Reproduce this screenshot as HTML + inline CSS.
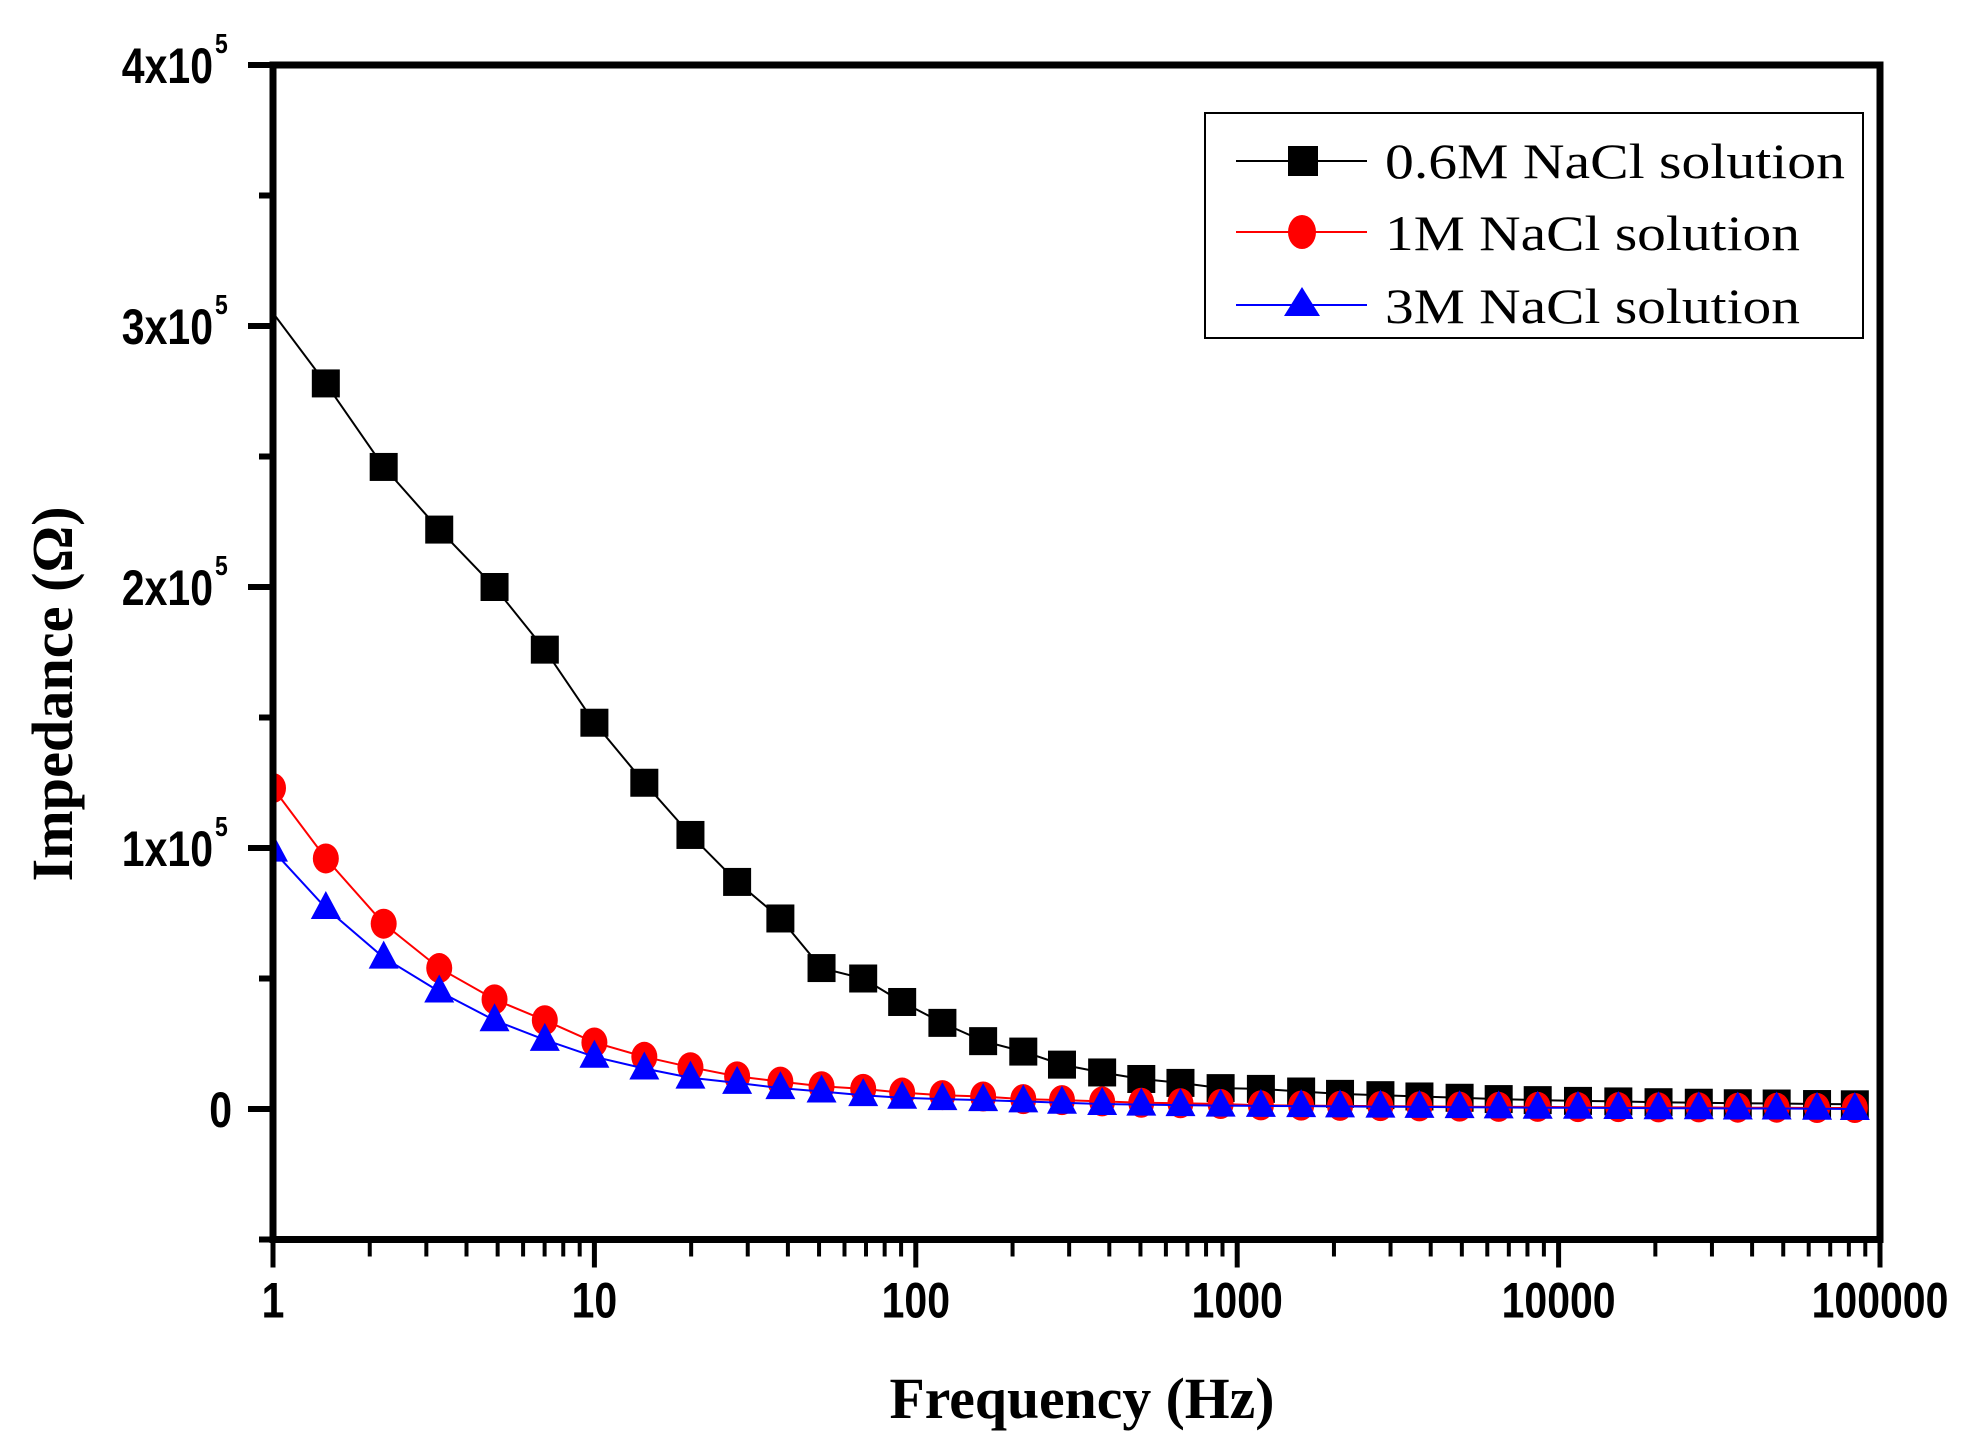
<!DOCTYPE html>
<html><head><meta charset="utf-8"><style>
body{margin:0;background:#fff}
svg{display:block}
.tk{font-family:"Liberation Sans Narrow","Liberation Sans",sans-serif;font-weight:bold;font-size:50px}
.ttl{font-family:"Liberation Serif",serif;font-weight:bold;font-size:58px}
.lg{font-family:"Liberation Serif",serif;font-size:50px}
</style></head><body>
<svg id="chart" width="1969" height="1451" viewBox="0 0 1969 1451" xmlns="http://www.w3.org/2000/svg">
<defs><clipPath id="clip"><rect x="273" y="65" width="1607" height="1175"/></clipPath></defs>
<rect width="1969" height="1451" fill="#fff"/>
<g id="series" clip-path="url(#clip)"></g>
<g id="axes"></g>
<g id="legend">
<rect x="1205" y="113" width="658" height="225" fill="#fff" stroke="#000" stroke-width="2"/>
<g>
<line x1="1236" y1="161" x2="1367" y2="161" stroke="#000" stroke-width="2"/>
<rect x="1288" y="146" width="30" height="30" fill="#000"/>
<text class="lg" x="1385" y="178" textLength="460" lengthAdjust="spacingAndGlyphs">0.6M NaCl solution</text></g>
<g>
<line x1="1236" y1="232" x2="1367" y2="232" stroke="#f00" stroke-width="2"/>
<ellipse cx="1302" cy="232" rx="14" ry="17" fill="#f00"/>
<text class="lg" x="1385" y="250" textLength="415" lengthAdjust="spacingAndGlyphs">1M NaCl solution</text></g>
<g>
<line x1="1236" y1="305" x2="1367" y2="305" stroke="#00f" stroke-width="2"/>
<polygon points="1302,287 1320,316 1284,316" fill="#00f"/>
<text class="lg" x="1385" y="323" textLength="415" lengthAdjust="spacingAndGlyphs">3M NaCl solution</text></g>
</g>
<text class="ttl" x="1082" y="1418" text-anchor="middle" textLength="385" lengthAdjust="spacingAndGlyphs">Frequency (Hz)</text>
<text class="ttl" transform="translate(72,694) rotate(-90)" text-anchor="middle" textLength="375" lengthAdjust="spacingAndGlyphs">Impedance (Ω)</text>
</svg>
<script>
const freqs=[1,1.46,2.21,3.29,4.89,7.01,10,14.3,19.9,27.8,37.9,50.9,68.6,90.7,121,162,216,285,380,503,666,888,1185,1581,2089,2790,3690,4920,6510,8610,11490,15340,20460,27300,36100,47700,63700,83500];
const s06=[3.05,2.78,2.46,2.22,2.00,1.76,1.48,1.25,1.05,0.87,0.73,0.54,0.50,0.41,0.33,0.26,0.22,0.17,0.14,0.115,0.10,0.08,0.077,0.067,0.058,0.053,0.048,0.043,0.038,0.034,0.031,0.029,0.026,0.024,0.022,0.021,0.019,0.018];
const s1=[1.23,0.96,0.71,0.54,0.42,0.34,0.255,0.20,0.16,0.125,0.105,0.087,0.077,0.063,0.053,0.048,0.038,0.034,0.029,0.024,0.022,0.019,0.014,0.013,0.012,0.011,0.010,0.009,0.008,0.008,0.007,0.007,0.006,0.006,0.005,0.005,0.004,0.004];
const s3=[0.99,0.77,0.58,0.45,0.34,0.265,0.20,0.155,0.12,0.10,0.08,0.067,0.053,0.043,0.038,0.034,0.029,0.024,0.019,0.017,0.015,0.013,0.012,0.011,0.010,0.009,0.008,0.007,0.006,0.005,0.005,0.004,0.003,0.003,0.002,0.002,0.001,0.0];
const xTicks=[1,10,100,1000,10000,100000];
const xTickLabels=["1","10","100","1000","10000","100000"];
const yTicks=[0,1,2,3,4];
const yTickLabels=["0","1x10","2x10","3x10","4x10"];
const NS="http://www.w3.org/2000/svg";
const X0=273,X1=1880,Y0=1239.5,Y1=65;
const xs=f=>X0+(Math.log10(f)-0)/5*(X1-X0);
const ys=v=>Y0-(v+0.5)/4.5*(Y0-Y1);
function mk(t,a,p){const e=document.createElementNS(NS,t);for(const k in a)e.setAttribute(k,a[k]);p.appendChild(e);return e;}
const ser=document.getElementById('series');
function drawSeries(vals,color,shape,name,skipFirst){
  const g=mk('g',{},ser);
  
  
  const pts=freqs.map((f,i)=>xs(f).toFixed(1)+','+ys(vals[i]).toFixed(1)).join(' ');
  const pl=mk('polyline',{points:pts,fill:'none',stroke:color,'stroke-width':2},g);
  
  
  freqs.forEach((f,i)=>{
    if(skipFirst&&i===0)return;
    const x=xs(f),y=ys(vals[i]);let m;
    if(shape==='sq')m=mk('rect',{x:x-14,y:y-14,width:28,height:28,fill:color},g);
    else if(shape==='ci')m=mk('ellipse',{cx:x,cy:y,rx:13,ry:15,fill:color},g);
    else m=mk('polygon',{points:`${x},${y-17} ${x+15},${y+11} ${x-15},${y+11}`,fill:color},g);
    
    
  });
}
drawSeries(s06,'#000','sq','series-0.6m',true);
drawSeries(s1,'#f00','ci','series-1m',false);
drawSeries(s3,'#00f','tr','series-3m',false);
const ax=document.getElementById('axes');
const fr=mk('rect',{x:X0,y:Y1,width:X1-X0,height:Y0-Y1,fill:'none',stroke:'#000','stroke-width':7},ax);


xTicks.forEach((t,i)=>{
  const x=xs(t);
  mk('line',{x1:x,y1:Y0,x2:x,y2:Y0+28,stroke:'#000','stroke-width':5},ax);
  const tx=mk('text',{transform:`translate(${x},${Y0+78}) scale(0.82,1)`,'text-anchor':'middle',class:'tk'},ax);
  tx.textContent=xTickLabels[i];
  
  
  if(i<xTicks.length-1)for(let k=2;k<10;k++){const mx=xs(t*k);mk('line',{x1:mx,y1:Y0,x2:mx,y2:Y0+17,stroke:'#000','stroke-width':4},ax);}
});
for(let v=-0.5;v<=4;v+=0.5){
  const y=ys(v);const major=Number.isInteger(v);
  mk('line',{x1:X0,y1:y,x2:X0-(major?25:14),y2:y,stroke:'#000','stroke-width':6},ax);
}
yTicks.forEach((t,i)=>{
  const y=ys(t);
  const tx=mk('text',{transform:`translate(${t===0?232:213},${y+18}) scale(0.82,1)`,'text-anchor':'end',class:'tk'},ax);
  tx.textContent=yTickLabels[i];
  
  
  if(t!==0){const s=mk('text',{transform:`translate(215,${y-12}) scale(0.82,1)`,class:'tk'},ax);s.style.fontSize='28px';s.textContent='5';
  
  }
});
</script>
</body></html>
